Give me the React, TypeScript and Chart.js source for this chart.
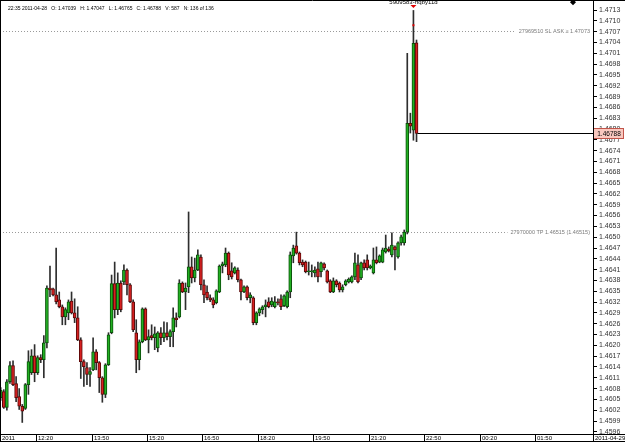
import React, { useEffect, useRef } from "react";
import { Chart, registerables } from "chart.js";

Chart.register(...registerables);

// ---- data (5-minute bars, 2011-04-28 11:20 .. 22:35) ----
const opens = [
  1.46055, 1.46072, 1.46028, 1.46099, 1.46144, 1.46094, 1.46058, 1.46031, 1.46025, 1.46091,
  1.46124, 1.46171, 1.46124, 1.46166, 1.46160, 1.46207, 1.46359, 1.46357, 1.46340, 1.46326,
  1.46307, 1.46279, 1.46290, 1.46323, 1.46290, 1.46276, 1.46215, 1.46155, 1.46138, 1.46119,
  1.46132, 1.46182, 1.46152, 1.46110, 1.46064, 1.46146, 1.46235, 1.46371, 1.46299, 1.46373,
  1.46376, 1.46409, 1.46368, 1.46321, 1.46235, 1.46160, 1.46210, 1.46301, 1.46215, 1.46227,
  1.46221, 1.46193, 1.46235, 1.46221, 1.46235, 1.46224, 1.46238, 1.46276, 1.46279, 1.46373,
  1.46348, 1.46362, 1.46418, 1.46387, 1.46409, 1.46445, 1.46368, 1.46348, 1.46332, 1.46326,
  1.46318, 1.46348, 1.46420, 1.46423, 1.46456, 1.46407, 1.46401, 1.46409, 1.46382, 1.46348,
  1.46362, 1.46332, 1.46332, 1.46263, 1.46290, 1.46299, 1.46307, 1.46321, 1.46312, 1.46307,
  1.46321, 1.46329, 1.46310, 1.46307, 1.46348, 1.46448, 1.46476, 1.46456, 1.46431, 1.46431,
  1.46404, 1.46404, 1.46401, 1.46412, 1.46404, 1.46426, 1.46407, 1.46379, 1.46348, 1.46379,
  1.46373, 1.46354, 1.46368, 1.46376, 1.46376, 1.46390, 1.46423, 1.46387, 1.46429, 1.46437,
  1.46415, 1.46401, 1.46437, 1.46431, 1.46431, 1.46459, 1.46467, 1.46451, 1.46473, 1.46445,
  1.46484, 1.46484, 1.46514, 1.46816, 1.46797, 1.47039,
];
const highs = [
  1.46083, 1.46077, 1.46105, 1.46155, 1.46157, 1.46113, 1.46080, 1.46036, 1.46094, 1.46185,
  1.46188, 1.46202, 1.46171, 1.46174, 1.46227, 1.46365, 1.46420, 1.46359, 1.46470, 1.46348,
  1.46312, 1.46304, 1.46326, 1.46348, 1.46329, 1.46307, 1.46221, 1.46160, 1.46152, 1.46138,
  1.46221, 1.46188, 1.46155, 1.46113, 1.46149, 1.46235, 1.46395, 1.46431, 1.46401, 1.46379,
  1.46423, 1.46412, 1.46371, 1.46326, 1.46271, 1.46215, 1.46304, 1.46304, 1.46243, 1.46257,
  1.46251, 1.46238, 1.46249, 1.46265, 1.46263, 1.46243, 1.46304, 1.46290, 1.46382, 1.46376,
  1.46373, 1.46570, 1.46445, 1.46442, 1.46465, 1.46451, 1.46382, 1.46365, 1.46340, 1.46332,
  1.46354, 1.46423, 1.46431, 1.46470, 1.46459, 1.46429, 1.46418, 1.46415, 1.46384, 1.46365,
  1.46365, 1.46346, 1.46335, 1.46293, 1.46304, 1.46310, 1.46326, 1.46332, 1.46332, 1.46335,
  1.46329, 1.46340, 1.46340, 1.46351, 1.46459, 1.46478, 1.46514, 1.46459, 1.46437, 1.46434,
  1.46431, 1.46423, 1.46418, 1.46431, 1.46431, 1.46429, 1.46409, 1.46382, 1.46387, 1.46382,
  1.46376, 1.46368, 1.46382, 1.46387, 1.46393, 1.46456, 1.46451, 1.46431, 1.46437, 1.46451,
  1.46423, 1.46470, 1.46473, 1.46451, 1.46470, 1.46506, 1.46473, 1.46512, 1.46476, 1.46487,
  1.46506, 1.46520, 1.47010, 1.46844, 1.47129, 1.47047,
];
const lows = [
  1.46047, 1.46025, 1.46020, 1.46094, 1.46088, 1.46044, 1.46022, 1.45986, 1.46022, 1.46064,
  1.46119, 1.46099, 1.46119, 1.46152, 1.46110, 1.46193, 1.46335, 1.46337, 1.46315, 1.46304,
  1.46257, 1.46257, 1.46271, 1.46287, 1.46263, 1.46213, 1.46108, 1.46086, 1.46091, 1.46086,
  1.46130, 1.46132, 1.46069, 1.46042, 1.46055, 1.46144, 1.46232, 1.46276, 1.46285, 1.46293,
  1.46368, 1.46340, 1.46318, 1.46238, 1.46124, 1.46132, 1.46207, 1.46213, 1.46179, 1.46215,
  1.46188, 1.46182, 1.46202, 1.46210, 1.46215, 1.46196, 1.46196, 1.46251, 1.46276, 1.46346,
  1.46299, 1.46346, 1.46373, 1.46376, 1.46407, 1.46354, 1.46318, 1.46326, 1.46321, 1.46304,
  1.46315, 1.46346, 1.46401, 1.46418, 1.46382, 1.46384, 1.46398, 1.46376, 1.46326, 1.46346,
  1.46326, 1.46318, 1.46257, 1.46257, 1.46282, 1.46287, 1.46279, 1.46304, 1.46307, 1.46304,
  1.46312, 1.46299, 1.46307, 1.46304, 1.46332, 1.46429, 1.46453, 1.46423, 1.46418, 1.46401,
  1.46395, 1.46390, 1.46390, 1.46376, 1.46390, 1.46409, 1.46373, 1.46346, 1.46346, 1.46362,
  1.46348, 1.46348, 1.46365, 1.46373, 1.46373, 1.46382, 1.46373, 1.46382, 1.46409, 1.46409,
  1.46412, 1.46398, 1.46426, 1.46429, 1.46429, 1.46456, 1.46459, 1.46445, 1.46409, 1.46442,
  1.46478, 1.46478, 1.46509, 1.46789, 1.46769, 1.46765,
];
const closes = [
  1.46075, 1.46028, 1.46099, 1.46144, 1.46091, 1.46055, 1.46031, 1.46017, 1.46091, 1.46155,
  1.46171, 1.46124, 1.46166, 1.46160, 1.46207, 1.46359, 1.46354, 1.46340, 1.46321, 1.46307,
  1.46279, 1.46299, 1.46321, 1.46290, 1.46276, 1.46215, 1.46155, 1.46141, 1.46119, 1.46127,
  1.46182, 1.46152, 1.46110, 1.46064, 1.46146, 1.46229, 1.46371, 1.46299, 1.46373, 1.46299,
  1.46409, 1.46368, 1.46321, 1.46243, 1.46160, 1.46210, 1.46301, 1.46215, 1.46224, 1.46221,
  1.46232, 1.46235, 1.46221, 1.46235, 1.46224, 1.46238, 1.46276, 1.46271, 1.46373, 1.46348,
  1.46359, 1.46418, 1.46387, 1.46409, 1.46451, 1.46368, 1.46340, 1.46332, 1.46326, 1.46312,
  1.46351, 1.46420, 1.46426, 1.46456, 1.46395, 1.46390, 1.46415, 1.46382, 1.46348, 1.46362,
  1.46332, 1.46340, 1.46263, 1.46290, 1.46301, 1.46307, 1.46312, 1.46307, 1.46323, 1.46321,
  1.46318, 1.46307, 1.46337, 1.46348, 1.46451, 1.46470, 1.46456, 1.46429, 1.46423, 1.46404,
  1.46407, 1.46407, 1.46409, 1.46390, 1.46429, 1.46415, 1.46376, 1.46348, 1.46379, 1.46368,
  1.46354, 1.46362, 1.46379, 1.46384, 1.46390, 1.46429, 1.46376, 1.46429, 1.46415, 1.46415,
  1.46420, 1.46437, 1.46429, 1.46448, 1.46465, 1.46470, 1.46462, 1.46478, 1.46465, 1.46484,
  1.46501, 1.46514, 1.46816, 1.46808, 1.47038, 1.46788,
];

// x axis: bar index scale (bar 0 = 11:20, 5-minute bars)
const X_MIN = -0.23;
const X_MAX = 192.3;
const xTickValues = [X_MIN, 11.5, 29.5, 47.5, 65.5, 83.5, 101.5, 119.5, 137.5, 155.5, 173.5, X_MAX];
const xTickLabels = ["2011", "12:20", "13:50", "15:20", "16:50", "18:20", "19:50", "21:20", "22:50", "00:20", "01:50", "2011-04-29"];

// y axis
const Y_MIN = 1.45954;
const Y_MAX = 1.47158;
const yTickValues = [
  1.4716, 1.4713, 1.471, 1.4707, 1.4704, 1.4701, 1.4698, 1.4695, 1.4692, 1.4689,
  1.4686, 1.4683, 1.468, 1.4677, 1.4674, 1.4671, 1.4668, 1.4665, 1.4662, 1.4659,
  1.4656, 1.4653, 1.465, 1.4647, 1.4644, 1.4641, 1.4638, 1.4635, 1.4632, 1.4629,
  1.4626, 1.4623, 1.462, 1.4617, 1.4614, 1.4611, 1.4608, 1.4605, 1.4602, 1.4599, 1.4596,
];

// order lines & annotations
const SL_PRICE = 1.47073;
const SL_TEXT = "27969510 SL ASK \u2265 1.47073";
const TP_PRICE = 1.46515;
const TP_TEXT = "27970000 TP 1.46515 (1.46515)";
const HEADER_TEXT = "22:35 2011-04-28   O: 1.47039   H: 1.47047   L: 1.46765   C: 1.46788   V: 587   N: 136 of 136";
const ORDER_LABEL = "5909583-rfqby11d";
const ORDER_INDEX = 134;
const ORDER_FILL_PRICE = 1.47088;
const DIAMOND_INDEX = 185.8;
const DIAMOND_PRICE = 1.47152;

const FONT = "'Liberation Sans', Arial, sans-serif";
const UP_FILL = "#22b022";
const UP_EDGE = "#0a500a";
const DOWN_FILL = "#d62020";
const DOWN_EDGE = "#5c0808";
const WICK = "#2e2e2e";

const overlayPlugin = {
  id: "overlay",
  beforeDraw(chart: any) {
    const { ctx, width, height } = chart;
    ctx.save();
    ctx.fillStyle = "#ffffff";
    ctx.fillRect(0, 0, width, height);
    ctx.restore();
  },
  beforeDatasetsDraw(chart: any) {
    const { ctx, chartArea } = chart;
    const ys = chart.scales.y;
    ctx.save();
    ctx.font = `5.5px ${FONT}`;
    const items: [number, string][] = [
      [SL_PRICE, SL_TEXT],
      [TP_PRICE, TP_TEXT],
    ];
    items.forEach(([p, t]) => {
      const y = Math.round(ys.getPixelForValue(p)) + 0.5;
      const tx = chartArea.right - 3;
      const w = ctx.measureText(t).width;
      ctx.strokeStyle = "#9a9a9a";
      ctx.lineWidth = 1;
      ctx.setLineDash([1, 2]);
      ctx.beginPath();
      ctx.moveTo(chartArea.left, y);
      ctx.lineTo(tx - w - 3, y);
      ctx.stroke();
      ctx.setLineDash([]);
      ctx.fillStyle = "#7a7a7a";
      ctx.textAlign = "right";
      ctx.textBaseline = "middle";
      ctx.fillText(t, tx, y);
    });
    ctx.restore();
  },
  afterDraw(chart: any) {
    const { ctx, chartArea, width, height } = chart;
    const xs = chart.scales.x;
    const ys = chart.scales.y;
    const last = closes.length - 1;
    ctx.save();
    ctx.lineWidth = 1;

    // current price line
    const cy = Math.round(ys.getPixelForValue(closes[last])) + 0.5;
    ctx.strokeStyle = "#000";
    ctx.beginPath();
    ctx.moveTo(xs.getPixelForValue(last) + 1, cy);
    ctx.lineTo(chartArea.right, cy);
    ctx.stroke();

    // price box
    const bx = Math.round(chartArea.right);
    ctx.fillStyle = "#f9c8bf";
    ctx.fillRect(bx, cy - 5.5, width - bx - 1, 11);
    ctx.strokeStyle = "#c2554a";
    ctx.strokeRect(bx + 0.5, cy - 5, width - bx - 2, 10);
    ctx.fillStyle = "#000";
    ctx.font = `6.5px ${FONT}`;
    ctx.textAlign = "center";
    ctx.textBaseline = "middle";
    ctx.fillText(closes[last].toFixed(5), (bx + width) / 2, cy + 0.5);

    // top price label, clipped by the frame
    ctx.fillStyle = "#333";
    ctx.font = `7px ${FONT}`;
    ctx.textAlign = "left";
    ctx.fillText(yTickValues[0].toFixed(4), bx + 6, ys.getPixelForValue(yTickValues[0]));

    // order marker
    const ox = xs.getPixelForValue(ORDER_INDEX);
    ctx.fillStyle = "#e00000";
    ctx.beginPath();
    ctx.moveTo(ox - 3, 5);
    ctx.lineTo(ox + 3, 5);
    ctx.lineTo(ox, 8);
    ctx.closePath();
    ctx.fill();
    const oy = ys.getPixelForValue(ORDER_FILL_PRICE);
    ctx.fillRect(ox - 1, oy - 1, 2, 2);
    ctx.fillStyle = "#000";
    ctx.font = `6px ${FONT}`;
    ctx.textAlign = "center";
    ctx.textBaseline = "alphabetic";
    ctx.fillText(ORDER_LABEL, ox, 4);

    // diamond
    const dx = xs.getPixelForValue(DIAMOND_INDEX);
    const dy = ys.getPixelForValue(DIAMOND_PRICE);
    ctx.beginPath();
    ctx.moveTo(dx, dy - 3);
    ctx.lineTo(dx + 3, dy);
    ctx.lineTo(dx, dy + 3);
    ctx.lineTo(dx - 3, dy);
    ctx.closePath();
    ctx.fill();

    // header
    ctx.font = `5px ${FONT}`;
    ctx.textAlign = "left";
    ctx.textBaseline = "middle";
    ctx.fillText(HEADER_TEXT, 8, 9);

    // time labels
    ctx.font = `6px ${FONT}`;
    ctx.fillStyle = "#000";
    ctx.textAlign = "left";
    ctx.textBaseline = "middle";
    xTickValues.forEach((v, i) => {
      const x = Math.round(xs.getPixelForValue(v));
      ctx.fillText(xTickLabels[i], x + 2, (chartArea.bottom + height) / 2 + 0.5);
    });

    // frame and separators
    ctx.strokeStyle = "#000";
    ctx.beginPath();
    ctx.moveTo(0, 0.5);
    ctx.lineTo(width, 0.5);
    ctx.moveTo(0.5, 0);
    ctx.lineTo(0.5, height);
    ctx.moveTo(0, height - 0.5);
    ctx.lineTo(width, height - 0.5);
    ctx.moveTo(0, Math.round(chartArea.bottom) + 0.5);
    ctx.lineTo(width, Math.round(chartArea.bottom) + 0.5);
    ctx.moveTo(bx + 0.5, 0);
    ctx.lineTo(bx + 0.5, height);
    xTickValues.slice(1, -1).forEach((v) => {
      const x = Math.round(xs.getPixelForValue(v)) + 0.5;
      ctx.moveTo(x, chartArea.bottom);
      ctx.lineTo(x, height);
    });
    ctx.stroke();
    ctx.restore();
  },
};

export default function App() {
  const ref = useRef<HTMLCanvasElement>(null);

  useEffect(() => {
    const canvas = ref.current;
    if (!canvas) return;
    const up = closes.map((c, i) => c >= opens[i]);
    const chart = new Chart(canvas, {
      type: "bar",
      data: {
        datasets: [
          {
            label: "body",
            data: opens.map((o, i) => ({ x: i, y: [o, closes[i]] })) as any,
            backgroundColor: up.map((u) => (u ? UP_FILL : DOWN_FILL)),
            borderColor: up.map((u) => (u ? UP_EDGE : DOWN_EDGE)),
            borderWidth: 1,
            borderSkipped: false,
            barThickness: 3,
            minBarLength: 1,
            grouped: false,
            order: 1,
          } as any,
          {
            label: "wick",
            data: lows.map((l, i) => ({ x: i, y: [l, highs[i]] })) as any,
            backgroundColor: WICK,
            borderWidth: 0,
            barThickness: 1,
            grouped: false,
            order: 2,
          } as any,
        ],
      },
      options: {
        animation: false,
        responsive: false,
        maintainAspectRatio: false,
        devicePixelRatio: 1,
        events: [],
        layout: { padding: 0 },
        plugins: { legend: { display: false }, tooltip: { enabled: false } },
        scales: {
          x: {
            type: "linear",
            position: "bottom",
            min: X_MIN,
            max: X_MAX,
            offset: false,
            afterBuildTicks: (s: any) => {
              s.ticks = xTickValues.map((v) => ({ value: v }));
            },
            afterFit: (s: any) => {
              s.height = 8;
              s.paddingLeft = 0;
              s.paddingRight = 0;
            },
            ticks: { display: false },
            grid: { display: false, offset: false },
            border: { display: true, color: "#000" },
          } as any,
          y: {
            type: "linear",
            position: "right",
            min: Y_MIN,
            max: Y_MAX,
            afterBuildTicks: (s: any) => {
              s.ticks = yTickValues.map((v) => ({ value: v }));
            },
            afterFit: (s: any) => {
              s.width = 32;
              s.paddingTop = 0;
              s.paddingBottom = 0;
            },
            ticks: {
              callback: (v: any) => Number(v).toFixed(4),
              autoSkip: false,
              padding: 2,
              color: "#333",
              font: { family: FONT, size: 7 },
            },
            grid: { drawOnChartArea: false, drawTicks: true, tickLength: 4, color: "#000" },
            border: { display: true, color: "#000" },
          } as any,
        },
      },
      plugins: [overlayPlugin],
    } as any);
    return () => chart.destroy();
  }, []);

  return (
    <div style={{ position: "fixed", left: 0, top: 0, width: 625, height: 442, background: "#fff" }}>
      <canvas ref={ref} width={625} height={442} style={{ display: "block", width: 625, height: 442 }} />
    </div>
  );
}
